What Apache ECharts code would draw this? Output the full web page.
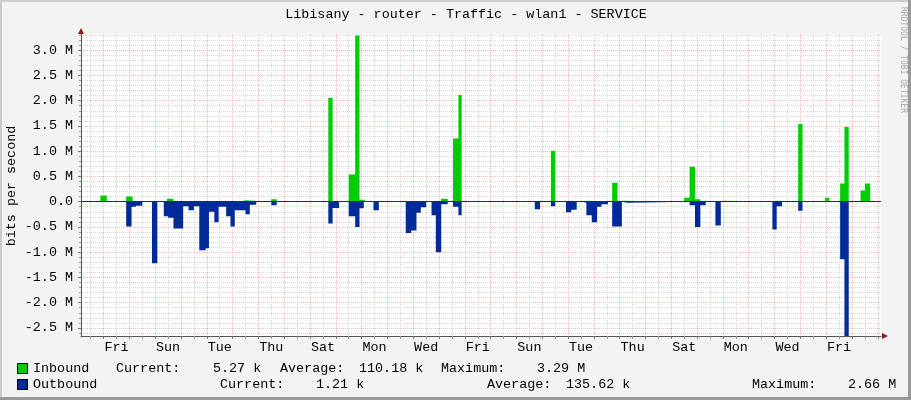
<!DOCTYPE html>
<html><head><meta charset="utf-8">
<script src="https://cdn.jsdelivr.net/npm/echarts@6/dist/echarts.min.js"></script>
<style>html,body{margin:0;padding:0;background:#f3f3f3}#c{width:911px;height:400px}</style>
</head><body><div id="c"></div>
<script>
// ---- data (time in hours after the first midnight shown; values in Mbit/s) ----
const dayNames = ['Fri', 'Sat', 'Sun', 'Mon', 'Tue', 'Wed', 'Thu'];
const X_MIN = -21, X_MAX = 723;          // 31 days shown
const Y_MIN = -2.66, Y_MAX = 3.32;        // in M (bits per second)
const yMajorTicks = [-2.5, -2.0, -1.5, -1.0, -0.5, 0.0, 0.5, 1.0, 1.5, 2.0, 2.5, 3.0];

// [start hour, end hour, value]
const inbound = [
  [-8, -3, 0.02], [-3, 3, 0.12], [21, 27, 0.10], [59, 65, 0.06], [127, 132, 0.03],
  [156, 161, 0.05], [209, 213, 2.06], [228, 234, 0.54], [234, 238, 3.29], [238, 243, 0.04],
  [305, 309, 0.02], [314, 320, 0.06], [325, 330, 1.25], [330, 333, 2.11], [401, 406, 0.02],
  [416, 420, 1.01], [430, 435, 0.02], [445, 449, 0.02], [473, 478, 0.375], [478, 483, 0.02],
  [540, 545, 0.08], [545, 550, 0.69], [550, 555, 0.05], [555, 559, 0.02], [569, 578, 0.02],
  [622, 626, 0.02], [646, 650, 1.54], [671, 675, 0.08], [685, 689, 0.36], [689, 693, 1.48],
  [704, 708, 0.22], [708, 713, 0.36], [713, 718, 0.02]
];
const outbound = [
  [21, 26, 0.49], [26, 30, 0.10], [30, 36, 0.08], [45, 50, 1.22], [56, 60, 0.29],
  [60, 65, 0.32], [65, 74, 0.53], [74, 79, 0.09], [79, 84, 0.17], [84, 89, 0.09],
  [89, 95, 0.96], [95, 98, 0.92], [98, 103, 0.20], [103, 107, 0.41], [107, 114, 0.10],
  [114, 118, 0.29], [118, 122, 0.49], [122, 132, 0.17], [132, 136, 0.25], [136, 142, 0.06],
  [156, 161, 0.07], [209, 213, 0.43], [213, 219, 0.125], [228, 234, 0.29], [234, 238, 0.50],
  [238, 242, 0.13], [251, 256, 0.17], [281, 286, 0.62], [286, 291, 0.57], [291, 295, 0.22],
  [295, 300, 0.11], [305, 309, 0.27], [309, 314, 1.00], [314, 320, 0.05], [325, 330, 0.10],
  [330, 333, 0.27], [401, 406, 0.15], [416, 420, 0.09], [430, 435, 0.21], [435, 440, 0.16],
  [445, 449, 0.02], [449, 454, 0.27], [454, 459, 0.41], [459, 463, 0.10], [463, 469, 0.05],
  [473, 482, 0.49], [482, 487, 0.02], [545, 550, 0.07], [550, 555, 0.50], [555, 560, 0.07],
  [569, 574, 0.47], [622, 626, 0.55], [626, 631, 0.09], [646, 650, 0.18], [685, 689, 1.14],
  [689, 693, 2.66], [708, 713, 0.03]
];

const titleText = 'Libisany - router - Traffic - wlan1 - SERVICE';
const yAxisName = 'bits per second';
const watermark = 'RRDTOOL / TOBI OETIKER';
const inboundLegend = ['Inbound', 'Current:', '5.27 k', 'Average:', '110.18 k', 'Maximum:', '3.29 M'];
const outboundLegend = ['Outbound', 'Current:', '1.21 k', 'Average:', '135.62 k', 'Maximum:', '2.66 M'];

// ---- layout / style ----
const FONT = 'Liberation Mono';
const FS = 13.4;
const GREEN = '#00CC00', BLUE = '#002A97';
const inLegendX = [33, 116, 213, 280, 359, 441, 537];
const outLegendX = [33, 220, 316, 487, 566, 752, 848];

const midnights = [], noons = [], labelNoons = [];
for (let d = 0; d * 24 <= X_MAX; d++) midnights.push(d * 24);
for (let d = -1; d * 24 + 12 <= X_MAX; d++) noons.push(d * 24 + 12);
for (let d = 0; d * 24 + 12 <= X_MAX; d += 2) labelNoons.push(d * 24 + 12);
const yMinor = [];
for (let k = Math.ceil(Y_MIN * 10); k <= Math.floor(Y_MAX * 10); k++) if (k % 5 !== 0) yMinor.push(k / 10);

function toPoints(segs, sign) {
  const pts = [];
  segs.forEach(([s, e, v]) => { pts.push([s, 0], [s, sign * v], [e, sign * v], [e, 0]); });
  return pts;
}

function legendTexts(items, xs, y) {
  return items.map((t, i) => ({
    type: 'text', x: xs[i], y: y, silent: true,
    style: { text: t, font: FS + 'px "' + FONT + '"', fill: '#000', textAlign: 'left', textVerticalAlign: 'middle' }
  }));
}

const chart = echarts.init(document.getElementById('c'), null, { renderer: 'canvas' });
chart.setOption({
  animation: false,
  backgroundColor: '#F3F3F3',
  grid: { left: 81, top: 34, width: 800, height: 302, show: true, backgroundColor: '#FFFFFF', borderWidth: 0, outerBoundsMode: 'none', containLabel: false },
  xAxis: [
    {
      type: 'value', min: X_MIN, max: X_MAX, position: 'bottom',
      axisLine: { show: true, onZero: false, lineStyle: { color: '#555', width: 1 } },
      axisTick: { show: true, customValues: midnights, length: 3, lineStyle: { color: '#777' } },
      axisLabel: {
        customValues: labelNoons, margin: 5, color: '#000', fontFamily: FONT, fontSize: FS,
        formatter: v => dayNames[(((Math.round((v - 12) / 24)) % 7) + 7) % 7]
      },
      splitLine: { show: true, lineStyle: { color: 'rgba(240,60,60,0.35)', width: 1, type: [1, 1] } }
    },
    {
      type: 'value', min: X_MIN, max: X_MAX, position: 'bottom', offset: 0,
      axisLine: { show: false, onZero: false },
      axisTick: { show: true, customValues: noons, length: 3, lineStyle: { color: '#999' } },
      axisLabel: { show: false },
      splitLine: { show: true, lineStyle: { color: '#D6D6D6', width: 1, type: [1, 1] } }
    }
  ],
  yAxis: [
    {
      type: 'value', min: Y_MIN, max: Y_MAX, position: 'left',
      axisLine: { show: true, onZero: false, lineStyle: { color: '#555', width: 1 } },
      axisTick: { show: true, customValues: yMajorTicks, length: 3, lineStyle: { color: '#777' } },
      axisLabel: {
        customValues: yMajorTicks, margin: 8, color: '#000', fontFamily: FONT, fontSize: FS,
        formatter: v => (Math.abs(v) < 1e-9 ? '0.0' : v.toFixed(1) + ' M')
      },
      splitLine: { show: true, lineStyle: { color: 'rgba(240,60,60,0.35)', width: 1, type: [1, 1] } }
    },
    {
      type: 'value', min: Y_MIN, max: Y_MAX, position: 'left', offset: 0,
      axisLine: { show: false, onZero: false },
      axisTick: { show: true, customValues: yMinor, length: 2, lineStyle: { color: '#999' } },
      axisLabel: { show: false },
      splitLine: { show: true, lineStyle: { color: '#D6D6D6', width: 1, type: [1, 1] } }
    }
  ],
  series: [
    {
      name: 'Inbound', type: 'line', xAxisIndex: 0, yAxisIndex: 0, z: 2,
      data: toPoints(inbound, 1), showSymbol: false, symbol: 'none',
      lineStyle: { width: 0, color: GREEN }, areaStyle: { color: GREEN, opacity: 1 }, silent: true
    },
    {
      name: 'Outbound', type: 'line', xAxisIndex: 0, yAxisIndex: 0, z: 3,
      data: toPoints(outbound, -1), showSymbol: false, symbol: 'none',
      lineStyle: { width: 0, color: BLUE }, areaStyle: { color: BLUE, opacity: 1 }, silent: true,
      markLine: {
        silent: true, symbol: ['none', 'none'], label: { show: false },
        lineStyle: { color: BLUE, width: 1, type: 'solid' },
        data: [{ yAxis: 0 }]
      }
    }
  ],
  graphic: [
    { type: 'rect', shape: { x: 0, y: 0, width: 911, height: 2 }, style: { fill: '#CBCBCB' }, silent: true },
    { type: 'rect', shape: { x: 0, y: 0, width: 2, height: 400 }, style: { fill: '#CBCBCB' }, silent: true },
    { type: 'rect', shape: { x: 908, y: 0, width: 3, height: 400 }, style: { fill: '#999999' }, silent: true },
    { type: 'rect', shape: { x: 0, y: 397, width: 911, height: 3 }, style: { fill: '#999999' }, silent: true },
    { type: 'polygon', shape: { points: [[78, 34], [84, 34], [81, 28]] }, style: { fill: '#8B1A1A' }, silent: true },
    { type: 'polygon', shape: { points: [[882, 333], [882, 339], [888, 336]] }, style: { fill: '#8B1A1A' }, silent: true },
    {
      type: 'text', x: 466, y: 14, silent: true,
      style: { text: titleText, font: FS + 'px "' + FONT + '"', fill: '#000', textAlign: 'center', textVerticalAlign: 'middle' }
    },
    {
      type: 'text', x: 11, y: 186, rotation: Math.PI / 2, silent: true,
      style: { text: yAxisName, font: FS + 'px "' + FONT + '"', fill: '#000', textAlign: 'center', textVerticalAlign: 'middle' }
    },
    {
      type: 'text', x: 903, y: 60, rotation: -Math.PI / 2, silent: true,
      style: { text: watermark, font: '8px "DejaVu Sans Mono"', fill: '#A8A8A8', textAlign: 'center', textVerticalAlign: 'middle' }
    },
    { type: 'rect', shape: { x: 17.5, y: 363.5, width: 10, height: 10 }, style: { fill: GREEN, stroke: '#000', lineWidth: 1 }, silent: true },
    { type: 'rect', shape: { x: 17.5, y: 379.5, width: 10, height: 10 }, style: { fill: BLUE, stroke: '#000', lineWidth: 1 }, silent: true }
  ].concat(legendTexts(inboundLegend, inLegendX, 368), legendTexts(outboundLegend, outLegendX, 384))
});
</script></body></html>
